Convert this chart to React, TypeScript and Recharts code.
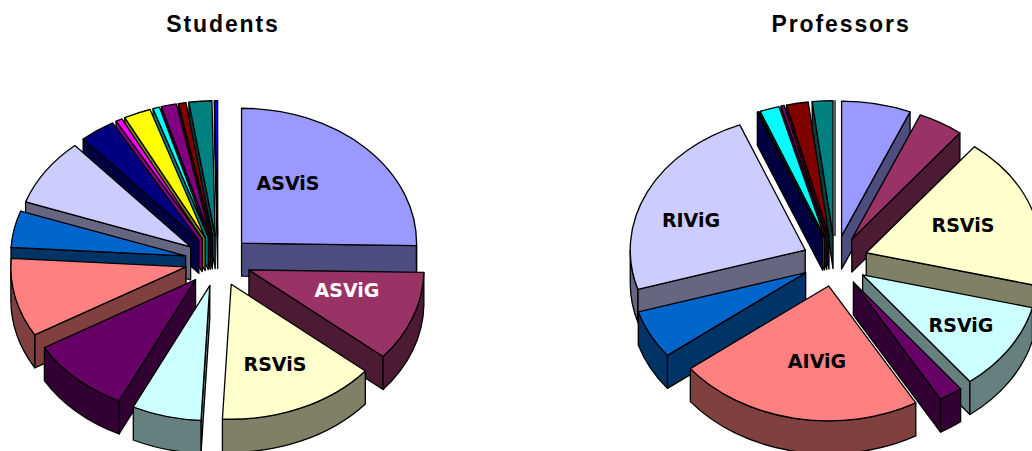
import React from "react";
import { Pie, PieChart } from "recharts";

// same category order and colour order in both pies, clockwise from 12 o'clock
const categories = [
  "ASViS", "ASViG", "RSViS", "RSViG", "ISViS", "AIViG", "ISViG", "RIViG",
  "AIViS", "RIViS", "OSViS", "OSViG", "OIViS", "OIViG", "PSViS", "PSViG",
];
const studentShares = [25.3, 10.8, 14.7, 6.4, 9.4, 9.4, 4.4, 8.1, 3.3, 0.6, 2.5, 0.6, 1.4, 0.7, 2.1, 0.3];
const professorShares = [6.4, 4.2, 18.3, 10.6, 2.2, 22.8, 5.8, 23.6, 0.1, 0, 0, 1.8, 0.3, 2.0, 1.9, 0];

const palette = [
  "#9999FF", "#993366", "#FFFFCC", "#CCFFFF", "#660066", "#FF8080", "#0066CC", "#CCCCFF",
  "#000080", "#FF00FF", "#FFFF00", "#00FFFF", "#800080", "#800000", "#008080", "#0000FF",
];
const wallPalette = [
  "#4D4D80", "#4D1A33", "#808066", "#668080", "#330033", "#804040", "#003366", "#666680",
  "#000040", "#800080", "#808000", "#008080", "#400040", "#400000", "#004040", "#000080",
];

// label centres, relative to the pie centre
const studentLabels: Record<string, [number, number]> = {
  ASViS: [70, -78],
  ASViG: [129, 29],
  RSViS: [57, 103],
};
const professorLabels: Record<string, [number, number]> = {
  RSViS: [128, -36],
  RSViG: [126, 64],
  AIViG: [-18, 100],
  RIViG: [-144, -41],
};

const RADIUS_X = 175;
const TILT = 0.771;
const DEPTH = 33;
const EXPLODE = 33;

type Row = { name: string; value: number; fill: string; wall: string; label?: [number, number] };

const toRad = (deg: number) => (deg * Math.PI) / 180;

// one pulled-out wedge: visible walls first, then the top face
const Wedge = (props: any) => {
  const { cx, cy, startAngle, endAngle, fill, payload } = props;
  const wall = payload.wall;
  const hi = Math.max(startAngle, endAngle);
  const lo = Math.min(startAngle, endAngle);
  let a0 = 90 - hi;
  let a1 = 90 - lo;
  if (a0 < 0) {
    a0 += 360;
    a1 += 360;
  }
  const rx = RADIUS_X;
  const ry = RADIUS_X * TILT;
  const mid = toRad((a0 + a1) / 2);
  const ax = cx + EXPLODE * Math.sin(mid);
  const ay = cy - EXPLODE * TILT * Math.cos(mid);
  const rim = (deg: number, drop = 0) =>
    `${ax + rx * Math.sin(toRad(deg))} ${ay - ry * Math.cos(toRad(deg)) + drop}`;
  const edge = { stroke: "#000", strokeWidth: 1.3, strokeLinejoin: "round" as const };

  const arcFrom = Math.max(a0, 90);
  const arcTo = Math.min(a1, 270);
  const large = a1 - a0 > 180 ? 1 : 0;

  return (
    <g>
      {a0 > 180 && a0 < 360 && a1 - a0 > 0 && (
        <path
          d={`M${ax} ${ay} L${rim(a0)} L${rim(a0, DEPTH)} L${ax} ${ay + DEPTH} Z`}
          fill={wall}
          {...edge}
        />
      )}
      {a1 > 0 && a1 < 180 && (
        <path
          d={`M${ax} ${ay} L${rim(a1)} L${rim(a1, DEPTH)} L${ax} ${ay + DEPTH} Z`}
          fill={wall}
          {...edge}
        />
      )}
      {arcTo > arcFrom && (
        <path
          d={`M${rim(arcFrom)} A${rx} ${ry} 0 0 1 ${rim(arcTo)} L${rim(arcTo, DEPTH)} A${rx} ${ry} 0 0 0 ${rim(arcFrom, DEPTH)} Z`}
          fill={wall}
          {...edge}
        />
      )}
      <path d={`M${ax} ${ay} L${rim(a0)} A${rx} ${ry} 0 ${large} 1 ${rim(a1)} Z`} fill={fill} {...edge} />
      {payload.label && (
        <text
          x={cx + payload.label[0]}
          y={cy + payload.label[1]}
          textAnchor="middle"
          dominantBaseline="central"
          fontFamily="'DejaVu Sans', sans-serif"
          fontWeight="bold"
          fontSize={19}
          fill={fill === "#993366" ? "#fff" : "#000"}
        >
          {payload.name}
        </text>
      )}
    </g>
  );
};

type PieProps = {
  title: string;
  shares: number[];
  labels: Record<string, [number, number]>;
  frontCount: number; // wedges drawn last, going clockwise from the top
  left: number;
  cx: number;
  titleX: number;
};

const ExplodedPie: React.FC<PieProps> = ({ title, shares, labels, frontCount, left, cx, titleX }) => {
  const rows: Row[] = categories.map((name, i) => ({
    name,
    value: shares[i],
    fill: palette[i],
    wall: wallPalette[i],
    label: labels[name],
  }));
  // back-to-front painting: the left half runs counter-clockwise from the top, then the right half
  const rightRows = rows.slice(0, frontCount);
  const leftRows = rows.slice(frontCount).reverse();
  const degrees = (list: Row[]) => list.reduce((sum, r) => sum + r.value, 0) * 3.6;

  return (
    <>
      <div
        style={{
          position: "absolute",
          left: titleX - 100,
          top: 11,
          width: 200,
          textAlign: "center",
          fontFamily: "'Liberation Sans', Arial, sans-serif",
          fontWeight: "bold",
          fontSize: 23,
          letterSpacing: 1.9,
          color: "#000",
        }}
      >
        {title}
      </div>
      <div style={{ position: "absolute", left, top: 0 }}>
        <PieChart width={516} height={451} margin={{ top: 0, right: 0, bottom: 0, left: 0 }}>
          <Pie
            data={leftRows}
            dataKey="value"
            cx={cx}
            cy={261}
            outerRadius={RADIUS_X}
            startAngle={90}
            endAngle={90 + degrees(leftRows)}
            shape={Wedge}
            isAnimationActive={false}
          />
          <Pie
            data={rightRows}
            dataKey="value"
            cx={cx}
            cy={261}
            outerRadius={RADIUS_X}
            startAngle={90}
            endAngle={90 - degrees(rightRows)}
            shape={Wedge}
            isAnimationActive={false}
          />
        </PieChart>
      </div>
    </>
  );
};

export default function App() {
  return (
    <div style={{ position: "absolute", left: 0, top: 0, width: 1032, height: 451, overflow: "hidden", background: "#fff" }}>
      <ExplodedPie title="Students" shares={studentShares} labels={studentLabels} frontCount={3} left={0} cx={218} titleX={223} />
      <ExplodedPie title="Professors" shares={professorShares} labels={professorLabels} frontCount={6} left={516} cx={319} titleX={841} />
    </div>
  );
}
